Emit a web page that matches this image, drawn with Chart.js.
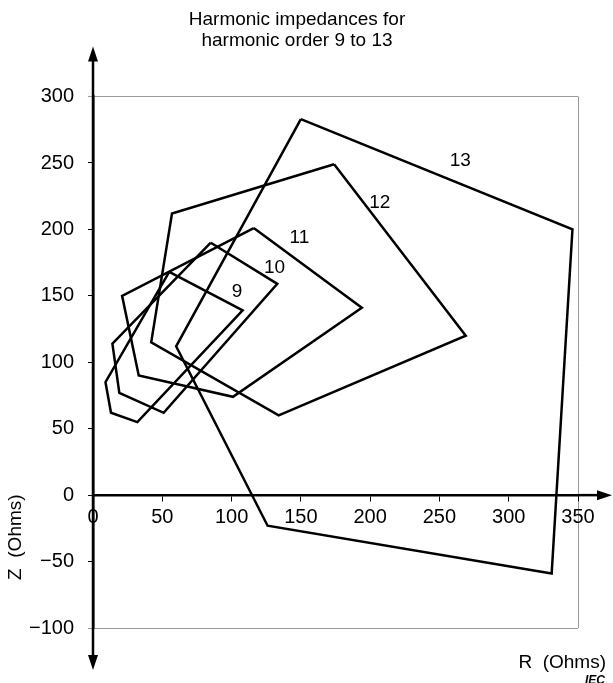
<!DOCTYPE html>
<html>
<head>
<meta charset="utf-8">
<title>Harmonic impedances</title>
<script src="https://cdn.jsdelivr.net/npm/chart.js@4.4.1/dist/chart.umd.min.js"></script>
<style>
    body { margin: 0; background: #fff; }
    #wrap { width: 613px; height: 683px; }
</style>
</head>
<body>
<div id="wrap"><canvas id="chart" width="613" height="683"></canvas></div>
<script>
// Polygon corners (R and Z in Ohms)
const orders = ['9', '10', '11', '12', '13'];

const order9R = [55, 108, 32, 13, 9];
const order9Z = [168, 139, 55, 62, 85];

const order10R = [85, 133, 51, 19, 14];
const order10Z = [190, 159, 62, 77, 114];

const order11R = [116, 194, 101, 33, 21];
const order11Z = [201, 141, 74, 90, 150];

const order12R = [174, 269, 134, 42, 57];
const order12Z = [249, 120, 60, 115, 212];

const order13R = [150, 346, 331, 126, 60];
const order13Z = [283, 200, -59, -23, 112];

// where each order number sits, in Ohms
const labelR = [104, 131, 149, 207, 265];
const labelZ = [153, 171, 194, 220, 252];

const xTicks = [0, 50, 100, 150, 200, 250, 300, 350];
const yTicks = [-100, -50, 0, 50, 100, 150, 200, 250, 300];

const FONT = '"Liberation Sans", Arial, Helvetica, sans-serif';
const GREY = '#9a9a9a';

function closedPolygon(rs, zs) {
    const pts = rs.map((r, i) => ({ x: r, y: zs[i] }));
    pts.push({ x: rs[0], y: zs[0] });
    return pts;
}

const seriesR = [order9R, order10R, order11R, order12R, order13R];
const seriesZ = [order9Z, order10Z, order11Z, order12Z, order13Z];

const datasets = orders.map((name, i) => ({
    label: name,
    data: closedPolygon(seriesR[i], seriesZ[i]),
    showLine: true,
    borderColor: '#000',
    backgroundColor: '#000',
    borderWidth: 2.5,
    borderJoinStyle: 'miter',
    pointRadius: 0,
    pointHoverRadius: 0,
    tension: 0,
    fill: false
}));

// arrows, axis names and order numbers
const decorations = {
    id: 'decorations',
    afterDraw(chart) {
        const ctx = chart.ctx;
        const area = chart.chartArea;
        const xs = chart.scales.x;
        const ys = chart.scales.y;
        const x0 = xs.getPixelForValue(0);
        const y0 = ys.getPixelForValue(0);

        ctx.save();
        ctx.strokeStyle = '#000';
        ctx.fillStyle = '#000';
        ctx.lineWidth = 2.5;

        // vertical axis running past the box both ways
        const topTip = area.top - 50;
        const botTip = area.bottom + 42;
        ctx.beginPath();
        ctx.moveTo(x0, topTip + 8);
        ctx.lineTo(x0, botTip - 8);
        ctx.stroke();

        // horizontal axis running past the box on the right
        const rightTip = area.right + 34;
        ctx.beginPath();
        ctx.moveTo(area.right, y0);
        ctx.lineTo(rightTip - 8, y0);
        ctx.stroke();

        ctx.beginPath();
        ctx.moveTo(x0, topTip);
        ctx.lineTo(x0 - 5, topTip + 15);
        ctx.lineTo(x0 + 5, topTip + 15);
        ctx.closePath();
        ctx.fill();

        ctx.beginPath();
        ctx.moveTo(x0, botTip);
        ctx.lineTo(x0 - 5, botTip - 15);
        ctx.lineTo(x0 + 5, botTip - 15);
        ctx.closePath();
        ctx.fill();

        ctx.beginPath();
        ctx.moveTo(rightTip, y0);
        ctx.lineTo(rightTip - 15, y0 - 5);
        ctx.lineTo(rightTip - 15, y0 + 5);
        ctx.closePath();
        ctx.fill();

        // order numbers
        ctx.font = '19px ' + FONT;
        ctx.textAlign = 'center';
        ctx.textBaseline = 'middle';
        orders.forEach((name, i) => {
            ctx.fillText(name, xs.getPixelForValue(labelR[i]), ys.getPixelForValue(labelZ[i]));
        });

        // axis names
        ctx.font = '19px ' + FONT;
        ctx.textAlign = 'right';
        ctx.fillText('R  (Ohms)', area.right + 28, area.bottom + 35);

        ctx.save();
        ctx.translate(16, y0 + 42);
        ctx.rotate(-Math.PI / 2);
        ctx.textAlign = 'center';
        ctx.fillText('Z  (Ohms)', 0, 0);
        ctx.restore();

        ctx.font = 'italic bold 12px ' + FONT;
        ctx.textAlign = 'right';
        ctx.fillText('IEC', area.right + 27, area.bottom + 53);

        ctx.restore();
    }
};

Chart.defaults.font.family = FONT;
Chart.defaults.color = '#000';

new Chart(document.getElementById('chart'), {
    type: 'scatter',
    data: { datasets: datasets },
    options: {
        responsive: false,
        animation: false,
        events: [],
        layout: { padding: { left: 0, right: 19, top: 0, bottom: 55 } },
        plugins: {
            legend: { display: false },
            tooltip: { enabled: false },
            title: {
                display: true,
                text: ['Harmonic impedances for', 'harmonic order 9 to 13'],
                color: '#000',
                font: { size: 19, weight: 'normal', family: FONT, lineHeight: 1.12 },
                padding: { top: 9, bottom: 45 }
            }
        },
        scales: {
            x: {
                type: 'linear',
                min: 0,
                max: 350,
                position: { y: 0 },
                afterBuildTicks: s => { s.ticks = xTicks.map(v => ({ value: v })); },
                // the right margin has to clear the layout padding too
                afterFit: s => { s.height = 0; s.paddingLeft = 0; s.paddingRight = 35; },
                ticks: { font: { size: 20 }, color: '#000', padding: 5, maxRotation: 0 },
                grid: {
                    color: c => (c.tick && c.tick.value === 350 ? GREY : 'rgba(0,0,0,0)'),
                    tickColor: '#000',
                    tickLength: 5,
                    lineWidth: 1
                },
                border: { display: true, color: '#000', width: 2.5 }
            },
            y: {
                type: 'linear',
                min: -100,
                max: 300,
                position: 'left',
                afterBuildTicks: s => { s.ticks = yTicks.map(v => ({ value: v })); },
                afterFit: s => { s.width = 93; s.paddingTop = 0; s.paddingBottom = 0; },
                ticks: {
                    font: { size: 20 },
                    color: '#000',
                    padding: 14,
                    callback: v => (v < 0 ? '\u2212' + Math.abs(v) : String(v))
                },
                grid: {
                    color: c => (c.tick && (c.tick.value === 300 || c.tick.value === -100) ? GREY : 'rgba(0,0,0,0)'),
                    tickColor: c => (c.tick && (c.tick.value === 300 || c.tick.value === -100) ? GREY : '#000'),
                    tickLength: 5,
                    lineWidth: 1
                },
                border: { display: true, color: '#000', width: 2.5 }
            }
        }
    },
    plugins: [decorations]
});
</script>
</body>
</html>
